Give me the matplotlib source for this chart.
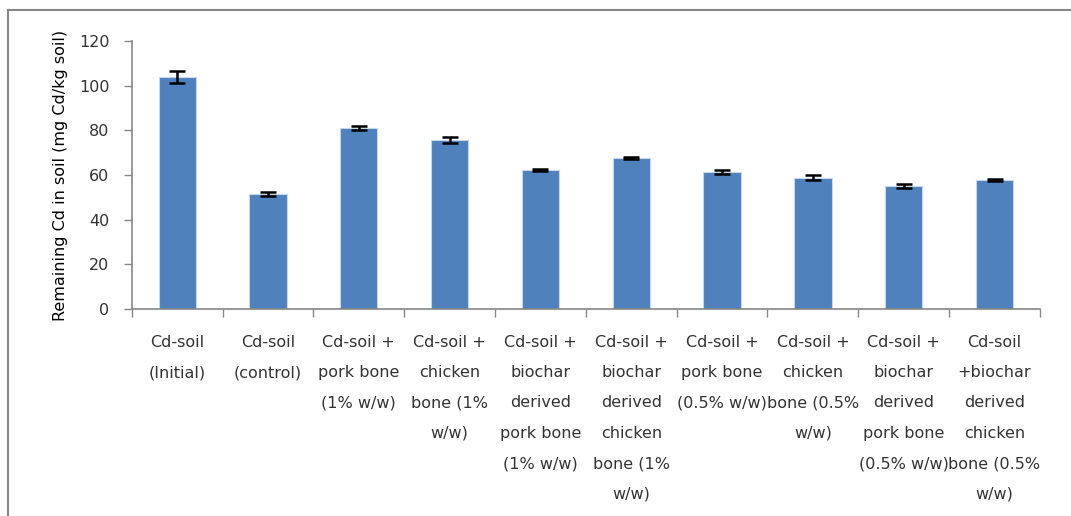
import numpy as np
import matplotlib
matplotlib.use("Agg")
import matplotlib.pyplot as plt
from matplotlib.lines import Line2D

# Data
categories = [
    "Cd-soil\n(Initial)",
    "Cd-soil\n(control)",
    "Cd-soil +\npork bone\n(1% w/w)",
    "Cd-soil +\nchicken\nbone (1%\nw/w)",
    "Cd-soil +\nbiochar\nderived\npork bone\n(1% w/w)",
    "Cd-soil +\nbiochar\nderived\nchicken\nbone (1%\nw/w)",
    "Cd-soil +\npork bone\n(0.5% w/w)",
    "Cd-soil +\nchicken\nbone (0.5%\nw/w)",
    "Cd-soil +\nbiochar\nderived\npork bone\n(0.5% w/w)",
    "Cd-soil\n+biochar\nderived\nchicken\nbone (0.5%\nw/w)",
]
remaining_cd = [103.8, 51.4, 81.1, 75.6, 62.4, 67.6, 61.3, 58.8, 55.2, 57.8]
errors = [2.7, 1.0, 0.8, 1.4, 0.5, 0.5, 0.9, 1.2, 1.0, 0.5]
yticks = [0, 20, 40, 60, 80, 100, 120]

plt.rcParams["font.family"] = ["DejaVu Sans"]

fig = plt.figure(figsize=(10.71, 5.16), dpi=100)
ax = fig.add_axes([0.123, 0.401, 0.848, 0.5195])

x = np.arange(len(categories))
ax.bar(x, remaining_cd, width=0.41, color="#4f81bd", edgecolor="#c6d6ea",
       linewidth=0.8, zorder=2)
ax.errorbar(x, remaining_cd, yerr=errors, fmt="none", ecolor="black",
            elinewidth=1.8, capsize=5.5, capthick=1.8, zorder=3)

ax.set_xlim(-0.5, len(categories) - 0.5)
ax.set_ylim(0, 120)
ax.set_yticks(yticks)
ax.set_yticklabels([str(t) for t in yticks], fontsize=11.5, color="#333333")

# ticks between the categories, labels centred under the bars
ax.set_xticks(np.arange(-0.5, len(categories), 1.0))
ax.set_xticklabels([])
ax.tick_params(axis="x", which="major", direction="out", length=6,
               color="#868686", width=1)
ax.tick_params(axis="y", direction="out", length=6, color="#868686",
               width=1, pad=10)
for i, lab in enumerate(categories):
    ax.text(i, -11.5, lab, ha="center", va="top", fontsize=11.5,
            color="#333333", linespacing=2.28)

for s in ["top", "right"]:
    ax.spines[s].set_visible(False)
for s in ["left", "bottom"]:
    ax.spines[s].set_color("#868686")
    ax.spines[s].set_linewidth(1.2)

ax.set_ylabel("Remaining Cd in soil (mg Cd/kg soil)", fontsize=11.5,
              color="black", labelpad=8)

# outer chart frame: left and top edges only
fig.lines.append(Line2D([0.0075, 0.0075], [0.0, 0.981], transform=fig.transFigure,
                        color="#868686", linewidth=1.5))
fig.lines.append(Line2D([0.0075, 1.0], [0.981, 0.981], transform=fig.transFigure,
                        color="#868686", linewidth=1.5))

fig.savefig("out.png", dpi=100)
